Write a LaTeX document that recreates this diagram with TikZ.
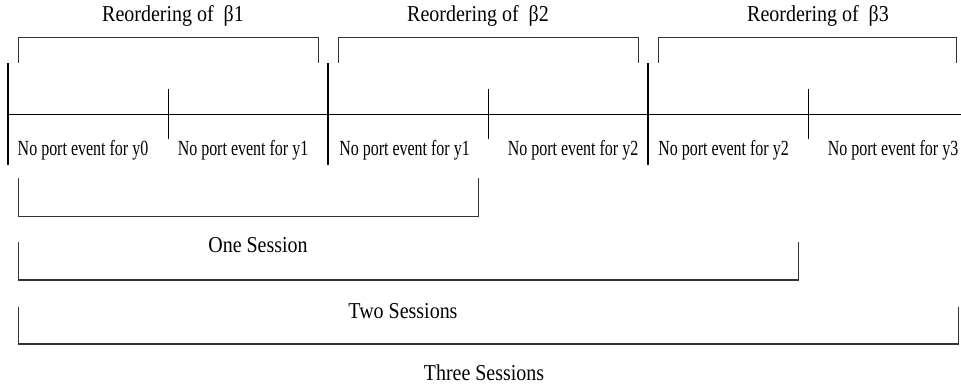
\documentclass[tikz,border=0pt]{standalone}
\usepackage{fontspec}
\setmainfont{Liberation Serif}
\newfontfamily\cellfont{Liberation Serif}[FakeStretch=0.74]
\newfontfamily\spanfont{Liberation Serif}[FakeStretch=0.88]
\usepackage{tikz}

\begin{document}
\begin{tikzpicture}[x=1pt,y=-1pt,
    cell/.style={anchor=base,inner sep=0pt,font=\cellfont\fontsize{21.6}{24}\selectfont},
    span/.style={anchor=base,inner sep=0pt,font=\spanfont\fontsize{22.7}{26}\selectfont},
    bar/.style={line width=2pt},
    tick/.style={line width=0.9pt},
    bracket/.style={line width=1.1pt,black!80}]
            \useasboundingbox (0,0) rectangle (961,389);
            % timeline
            \coordinate (start) at (8.3,114.7);
            \coordinate (end) at (961,114.7);
            \draw[tick] (start) to (end);
            \draw[bar] (8.3,63) to (8.3,165);
            \draw[bar] (328.3,63) to (328.3,165);
            \draw[bar] (648.3,63) to (648.3,165);
            \draw[tick] (168.3,89) to (168.3,139);
            \draw[tick] (488.3,89) to (488.3,139);
            \draw[tick] (808.3,89) to (808.3,139);
            % cells
            \node[cell] (c0) at (83,155) {No port event for y0};
            \node[cell] (c1) at (243,155) {No port event for y1};
            \node[cell] (c2) at (404.5,155) {No port event for y1};
            \node[cell] (c3) at (573,155) {No port event for y2};
            \node[cell] (c4) at (723.5,155) {No port event for y2};
            \node[cell] (c5) at (893,155) {No port event for y3};
            % reorderings
            \node[span] (r1) at (173,21.7) {Reordering of\ \ β1};
            \node[span] (r2) at (478,21.7) {Reordering of\ \ β2};
            \node[span] (r3) at (818,21.7) {Reordering of\ \ β3};
            \draw[bracket] (18.3,63) -- (18.3,37.5) -- (318.3,37.5) -- (318.3,63);
            \draw[bracket] (338.3,63) -- (338.3,37.5) -- (638.3,37.5) -- (638.3,63);
            \draw[bracket] (658.3,63) -- (658.3,37.5) -- (956.7,37.5) -- (956.7,63);
            % sessions
            \draw[bracket] (18.3,178.3) -- (18.3,216.7) -- (478.3,216.7) -- (478.3,178.3);
            \draw[bracket] (18.3,241.7) -- (18.3,280) -- (798.3,280) -- (798.3,241.7);
            \draw[bracket] (18.3,306.7) -- (18.3,344) -- (958.3,344) -- (958.3,306.7);
            \node[span] (s1) at (258,252.7) {One Session};
            \node[span] (s2) at (403,318.3) {Two Sessions};
            \node[span] (s3) at (484,380.7) {Three Sessions};
        \end{tikzpicture}
\end{document}
